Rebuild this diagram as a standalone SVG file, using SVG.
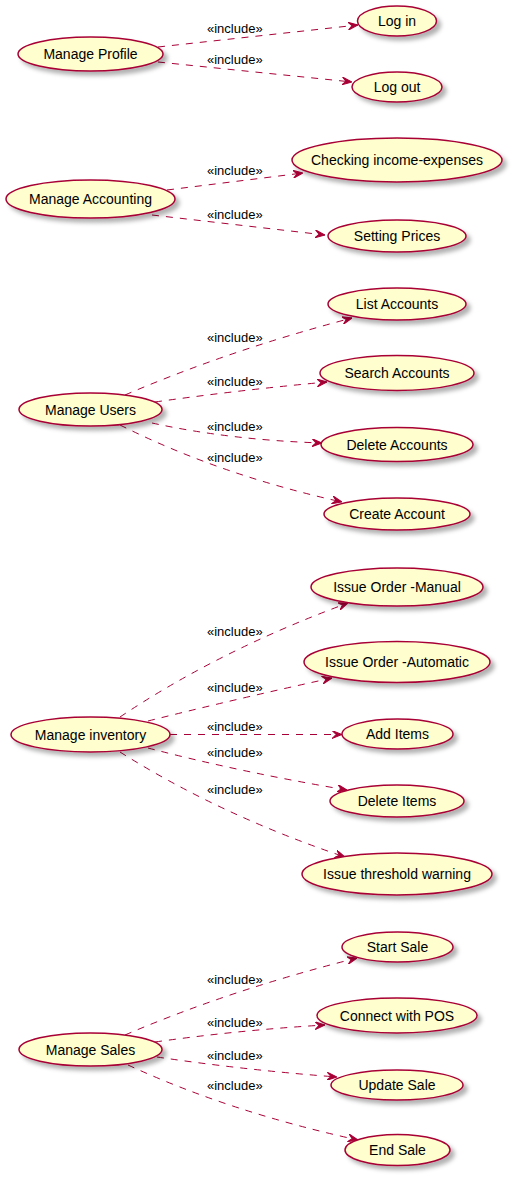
<svg xmlns="http://www.w3.org/2000/svg" width="513" height="1177" viewBox="0 0 513 1177">
<style>
.uc ellipse{fill:#FEFECE;stroke:#A80036;stroke-width:1.5;filter:url(#sh)}
.uc text{font-family:"Liberation Sans",Arial,sans-serif;font-size:14px;fill:#000;text-anchor:middle}
.edges path{fill:none;stroke:#A80036;stroke-width:1;stroke-dasharray:7,7;marker-end:url(#ah)}
.edges text{font-family:"Liberation Sans",Arial,sans-serif;font-size:13px;fill:#000}
</style>
<defs>
<filter id="sh" x="-20%" y="-30%" width="150%" height="180%">
<feDropShadow dx="4" dy="4" stdDeviation="2" flood-color="#000" flood-opacity="0.3"/>
</filter>
<marker id="ah" viewBox="0 0 10 8" refX="10" refY="4" markerWidth="10" markerHeight="8" markerUnits="userSpaceOnUse" orient="auto">
<path d="M0,0 L10,4 L0,8 L4,4 Z" fill="#A80036" stroke="#A80036" stroke-width="1"/>
</marker>
</defs>
<rect width="513" height="1177" fill="#FFFFFF"/>

<g class="edges">
<path d="M158,47 L358,25"/><text x="207" y="33">«include»</text>
<path d="M158,62 L352,82"/><text x="207" y="64">«include»</text>

<path d="M167,190 L303,173"/><text x="207" y="175">«include»</text>
<path d="M152,215 L325,235"/><text x="207" y="219">«include»</text>

<path d="M125,395 Q230,350 352,318"/><text x="207" y="342">«include»</text>
<path d="M155,402 Q240,390 327,382"/><text x="207" y="386">«include»</text>
<path d="M152,423 Q230,440 322,443"/><text x="207" y="431">«include»</text>
<path d="M120,425 Q220,475 342,502"/><text x="207" y="462">«include»</text>

<path d="M120,717 Q220,650 348,603"/><text x="207" y="636">«include»</text>
<path d="M148,721 Q240,698 332,678"/><text x="207" y="692">«include»</text>
<path d="M170,734.5 L342,734.5"/><text x="207" y="731">«include»</text>
<path d="M148,748 Q240,772 347,790"/><text x="207" y="757">«include»</text>
<path d="M120,752 Q220,815 345,857"/><text x="207" y="794">«include»</text>

<path d="M125,1035 Q230,990 357,958"/><text x="207" y="984">«include»</text>
<path d="M155,1042 Q240,1030 325,1025"/><text x="207" y="1027">«include»</text>
<path d="M157,1057 Q245,1070 337,1077"/><text x="207" y="1060">«include»</text>
<path d="M128,1065 Q230,1112 358,1140"/><text x="207" y="1090">«include»</text>
</g>

<g id="manage_profile" class="uc"><ellipse cx="90.5" cy="54" rx="72.5" ry="17"/><text x="90.5" y="59">Manage Profile</text></g>
<g id="log_in" class="uc"><ellipse cx="397" cy="21" rx="39.5" ry="15"/><text x="397" y="26">Log in</text></g>
<g id="log_out" class="uc"><ellipse cx="397" cy="87" rx="45" ry="15"/><text x="397" y="92">Log out</text></g>

<g id="manage_accounting" class="uc"><ellipse cx="90.5" cy="199" rx="84.5" ry="19"/><text x="90.5" y="204">Manage Accounting</text></g>
<g id="checking" class="uc"><ellipse cx="397" cy="160" rx="105" ry="22"/><text x="397" y="165">Checking income-expenses</text></g>
<g id="setting_prices" class="uc"><ellipse cx="397" cy="236" rx="69" ry="16"/><text x="397" y="241">Setting Prices</text></g>

<g id="manage_users" class="uc"><ellipse cx="90.5" cy="409.5" rx="71.5" ry="16.5"/><text x="90.5" y="414.5">Manage Users</text></g>
<g id="list_accounts" class="uc"><ellipse cx="397" cy="304" rx="69" ry="16"/><text x="397" y="309">List Accounts</text></g>
<g id="search_accounts" class="uc"><ellipse cx="397" cy="373" rx="77" ry="17.5"/><text x="397" y="378">Search Accounts</text></g>
<g id="delete_accounts" class="uc"><ellipse cx="397" cy="444.5" rx="76" ry="17"/><text x="397" y="449.5">Delete Accounts</text></g>
<g id="create_account" class="uc"><ellipse cx="397" cy="514" rx="73" ry="16"/><text x="397" y="519">Create Account</text></g>

<g id="manage_inventory" class="uc"><ellipse cx="90.5" cy="734.5" rx="79.5" ry="17.5"/><text x="90.5" y="739.5">Manage inventory</text></g>
<g id="issue_manual" class="uc"><ellipse cx="397" cy="587" rx="86" ry="19"/><text x="397" y="592">Issue Order -Manual</text></g>
<g id="issue_auto" class="uc"><ellipse cx="397" cy="662" rx="93" ry="20.5"/><text x="397" y="667">Issue Order -Automatic</text></g>
<g id="add_items" class="uc"><ellipse cx="397.5" cy="734" rx="55.5" ry="15"/><text x="397.5" y="739">Add Items</text></g>
<g id="delete_items" class="uc"><ellipse cx="397" cy="801" rx="67" ry="16"/><text x="397" y="806">Delete Items</text></g>
<g id="threshold" class="uc"><ellipse cx="397" cy="874" rx="95" ry="21"/><text x="397" y="879">Issue threshold warning</text></g>

<g id="manage_sales" class="uc"><ellipse cx="90.5" cy="1049.5" rx="71.5" ry="16.5"/><text x="90.5" y="1054.5">Manage Sales</text></g>
<g id="start_sale" class="uc"><ellipse cx="397.5" cy="947" rx="55.5" ry="15"/><text x="397.5" y="952">Start Sale</text></g>
<g id="connect_pos" class="uc"><ellipse cx="397" cy="1015.5" rx="80" ry="17.5"/><text x="397" y="1020.5">Connect with POS</text></g>
<g id="update_sale" class="uc"><ellipse cx="397" cy="1085" rx="66" ry="15"/><text x="397" y="1090">Update Sale</text></g>
<g id="end_sale" class="uc"><ellipse cx="397.5" cy="1150" rx="52.5" ry="15.5"/><text x="397.5" y="1155">End Sale</text></g>
</svg>
